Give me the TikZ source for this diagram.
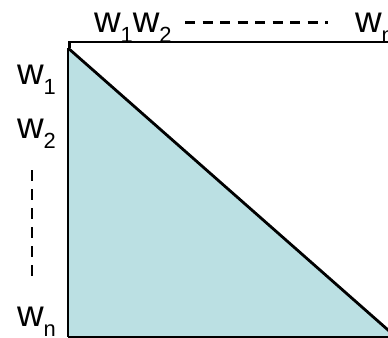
\documentclass[tikz,border=0pt]{standalone}
\usepackage{fontspec}
\setmainfont{Liberation Sans}
\definecolor{tri}{HTML}{BBE0E3}
\newcommand{\lbl}[2]{\fontsize{37}{37}\selectfont w\raisebox{-10.5bp}{\fontsize{22}{22}\selectfont #1}#2}
\begin{document}
\begin{tikzpicture}[x=1bp,y=-1bp,
  lab/.style={anchor=base west,inner sep=0pt,outer sep=0pt},
  edge/.style={line width=2.8bp,line cap=butt},
  dashline/.style={line width=2.8bp,dash pattern=on 10bp off 7.5bp}]
\useasboundingbox (0,0) rectangle (388,338);
\fill[white] (0,0) rectangle (388,338);
\coordinate (A) at (68,48);
\coordinate (B) at (68,337);
\coordinate (C) at (396,337);
\fill[tri] (A) -- (B) -- (C) -- cycle;
\draw[edge] (A) -- (C);
\draw[edge] (68,48) -- (B);
\draw[line width=3bp] (B) -- (C);
\draw[edge] (69.3,48) -- (69.3,42) -- (400,42);
\node[lab] (t12) at (94,32) {\lbl{1}{}\lbl{2}{}};
\node[lab] (tn) at (355,32) {\lbl{n}{}};
\coordinate (d1) at (185,22.5);
\coordinate (d2) at (328,22.5);
\draw[dashline] (d1) -- (d2);
\node[lab] (l1) at (17,84) {\lbl{1}{}};
\node[lab] (l2) at (17,138) {\lbl{2}{}};
\node[lab] (ln) at (17,326) {\lbl{n}{}};
\coordinate (v1) at (32,170);
\coordinate (v2) at (32,276);
\draw[dashline,dash pattern=on 11bp off 8bp] (v1) -- (v2);
\end{tikzpicture}
\end{document}
